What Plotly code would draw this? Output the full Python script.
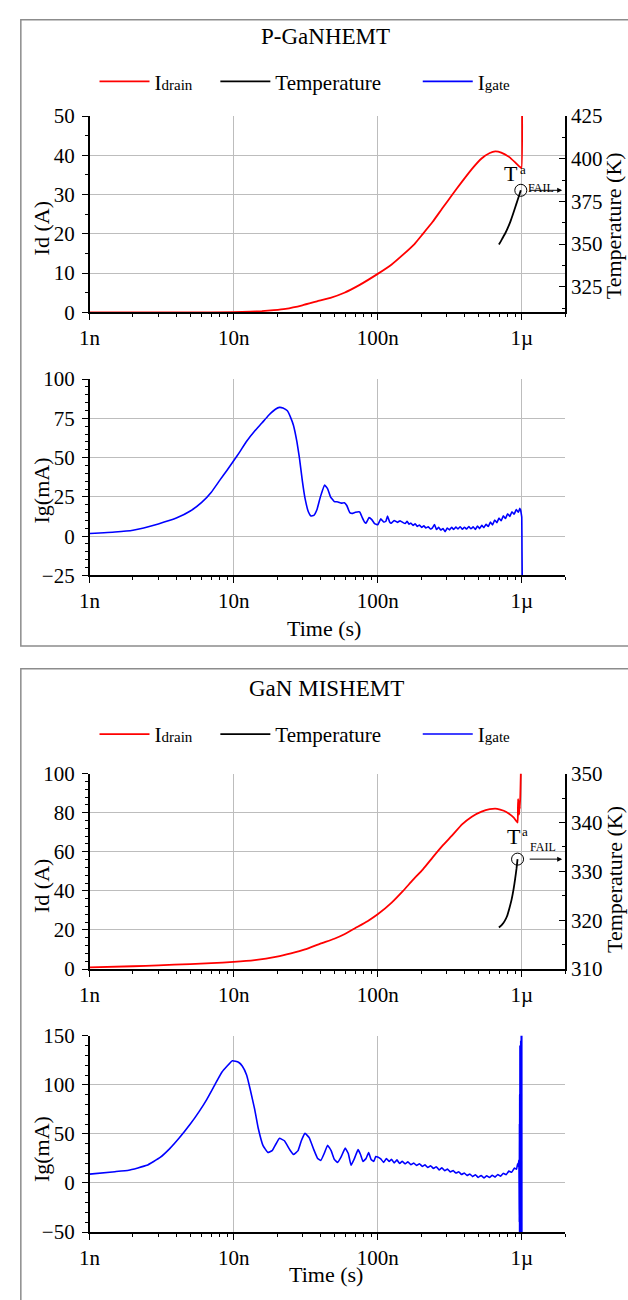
import plotly.graph_objects as go
import math

W, H = 628, 1300
F = "Liberation Serif, Times New Roman, serif"


def px(x):
    return x / W


def py(y):
    return 1 - y / H


# ---------------- data (time in ns) ----------------
# Panel 1 : P-GaNHEMT
P1_ID_T = [1, 2, 5, 10, 13, 15.7, 19, 22.9, 30, 37.9, 47, 58.7, 75, 100, 125, 150, 180, 206, 240, 281,
           330, 385, 450, 526, 600, 655, 720, 816, 900, 960, 995, 1005, 1010]
P1_ID = [0, 0, 0, 0.05, 0.15, 0.3, 0.55, 0.9, 1.8, 2.8, 3.7, 5.0, 7.0, 9.8, 12.2, 14.7, 17.4, 20.0, 23.0, 26.5,
         30.0, 33.3, 36.5, 39.2, 40.6, 41.0, 40.7, 39.6, 38.2, 37.2, 36.7, 55, 60]

P1_TEMP_T = [694, 720, 738, 770, 800, 835, 865, 900, 935, 960, 985]
P1_TEMP = [349.8, 352.0, 353.7, 356.5, 359.5, 363.3, 367.0, 371.4, 375.7, 378.6, 381.5]

P1_IG_T = [1, 1.5, 2, 3, 4, 5, 6, 7, 8, 9, 10, 11, 12.2, 14, 15.7, 17.5, 19.5, 20.8, 22, 23.6, 25, 26,
           27.5, 28.6, 30, 31.3, 33, 34.4, 36, 37.9, 40, 42.8, 45, 47, 50, 53, 56, 58.7, 61, 64, 67, 70,
           75, 78, 81, 83, 87, 91, 95, 100, 105, 110, 114, 117, 121, 124, 130, 137, 143, 150,
           155, 160, 165, 170, 176, 182, 188, 195, 202, 209, 216, 224, 232, 240, 248, 256, 265, 274,
           284, 294, 304, 315, 326, 337, 349, 361, 374, 387, 400, 414, 429, 444, 460, 476, 493, 510,
           528, 546, 565, 585, 606, 627, 649, 672, 695, 720, 745, 771, 798, 826, 855, 885, 916, 948,
           970, 985, 995, 1000, 1004, 1008]
P1_IG = [1.7, 2.6, 3.8, 7.8, 11.5, 16, 21.5, 28, 35.5, 42, 48, 53.5, 60, 67, 72, 77, 80.8, 82, 81.6, 79.8,
         75, 70.6, 60, 50, 35, 24, 15.5, 12.8, 13.2, 17, 25, 32.5, 30, 25, 22, 21.8, 21, 21.3, 19.5, 15,
         14.5, 15.2, 15.4, 12, 9, 8.2, 11.8, 10.5, 8, 7.2, 11, 9, 9.5, 12.8, 9, 8.2, 10, 8.8, 9.8, 8.6,
         8.0, 9.4, 7.6, 8.3, 6.8, 7.9, 6.2, 7.1, 5.6, 6.6, 5.2, 6.0, 4.6, 5.3, 7.4, 4.2, 5.6, 3.9,
         4.8, 2.9, 5.1, 4.0, 5.6, 4.3, 5.8, 4.6, 6.0, 4.4, 5.7, 4.5, 6.1, 4.7, 5.9, 4.3, 6.4, 4.8,
         6.9, 5.4, 7.6, 6.1, 8.9, 7.2, 10.3, 8.6, 11.5, 9.8, 12.9, 11.2, 14.3, 12.6, 15.5, 13.9, 17.0, 15.2,
         17.8, 16.0, 13.5, 12.0, -10, -30]

# Panel 2 : GaN MISHEMT
P2_ID_T = [1, 2, 3, 5, 7, 10, 14, 20, 25, 31.3, 40, 50, 58.7, 70, 85, 100, 125, 150, 175, 206, 240, 281,
           330, 385, 450, 526, 600, 675, 750, 816, 880, 935, 940, 944, 950, 958, 965, 970, 978, 985, 990]
P2_ID = [0.8, 1.4, 1.9, 2.5, 3.0, 3.6, 4.5, 6.3, 8.0, 10.0, 13.0, 15.5, 17.8, 21.0, 24.5, 28.0, 34.0, 40.0,
         45.5, 51.0, 57.0, 63.0, 68.5, 74.0, 78.0, 80.6, 81.8, 82.0, 81.0, 79.5, 77.5, 75.0, 82, 87, 79,
         79.5, 86, 82, 90, 100, 110]

P2_TEMP_T = [694, 730, 760, 790, 820, 850, 878, 900, 920, 935]
P2_TEMP = [318.5, 319.1, 319.8, 320.8, 322.4, 324.2, 326.4, 328.5, 330.6, 332.5]

P2_IG_T = [1, 1.5, 1.87, 2.5, 3.09, 3.6, 4.2, 5, 5.77, 6.5, 7.4, 8.3, 9.8, 10.8, 11.5, 12.3, 13, 14, 14.8,
           16, 17.3, 18.5, 19.7, 20.8, 22.5, 24.5, 26, 28, 29.5, 31.3, 33.5, 36, 38.3, 40.3, 42.5, 44.9,
           47.5, 50, 52.7, 55.5, 59.5, 62.5, 65.3, 69, 73, 76, 79, 83, 86.5, 90, 94, 97, 100,
           105, 110, 115, 120, 125, 130, 136, 142, 148, 155, 162, 170, 178, 186, 195, 204, 213, 223,
           233, 244, 255, 267, 279, 292, 305, 319, 334, 349, 365, 382, 399, 417, 436, 456, 477, 499,
           522, 546, 571, 597, 624, 652, 682, 713, 745, 779, 814, 851, 889, 920, 935, 945, 955,
           962, 964, 966, 968, 970, 972, 974, 976, 978, 980, 982, 984, 986, 988, 990, 992, 994, 996,
           998, 1000, 1002]
P2_IG = [9, 11.5, 13, 18, 26, 35, 46, 60, 73, 85, 100, 113, 124.5, 123, 119, 110, 96, 75, 56,
         38, 31, 33, 40, 45.5, 43, 34, 29, 33, 43, 50.5, 46, 34, 25, 23, 30, 38.5,
         33, 24, 21, 26, 35.5, 30, 18, 25, 34, 29, 22, 25, 31, 24, 22, 27, 26.5,
         24.5, 21, 25, 22, 24, 20.5, 23.5, 19.8, 22, 19.5, 21.5, 18.6, 20.3, 17.8, 19.6, 16.9, 18.4, 15.7,
         17.5, 14.8, 16.6, 13.2, 15.5, 12.4, 14.1, 11.3, 12.6, 10.1, 11.4, 8.7, 10.2, 7.6, 9.1, 6.5, 8.3, 5.7,
         7.6, 5.2, 7.4, 5.6, 7.8, 6.0, 8.6, 6.9, 9.8, 8.4, 12.1, 10.9, 15.2, 14.0, 19.5, 17.0, 23.5,
         -40, 60, -55, 90, -60, 140, -60, 120, -55, 100, -60, 145, -60, 130, -58, 160, -60, 150,
         -60, 170, -60]

X_TICKVALS = [1e-9, 1e-8, 1e-7, 1e-6]
X_TICKTEXT = ["1n", "10n", "100n", "1\u00b5"]


def sec(ts):
    return [t * 1e-9 for t in ts]


RED, BLACK, BLUE = "#ff0000", "#000000", "#0000ff"
LW = 1.8
TICKFONT = dict(family=F, size=21, color="black")

fig = go.Figure()

# panel 1
fig.add_trace(go.Scatter(x=sec(P1_ID_T), y=P1_ID, xaxis="x", yaxis="y", mode="lines",
                         line=dict(color=RED, width=LW, shape="spline", smoothing=0.4),
                         name="I<span style='font-size:15px'>drain</span>", legend="legend"))
fig.add_trace(go.Scatter(x=sec(P1_TEMP_T), y=P1_TEMP, xaxis="x", yaxis="y2", mode="lines",
                         line=dict(color=BLACK, width=LW, shape="spline", smoothing=0.4),
                         name="Temperature", legend="legend2"))
fig.add_trace(go.Scatter(x=sec(P1_TEMP_T[-1:]), y=P1_TEMP[-1:], xaxis="x", yaxis="y2", mode="markers",
                         marker=dict(symbol="circle-open", size=12, color=BLACK, line=dict(width=1)),
                         showlegend=False))
fig.add_trace(go.Scatter(x=sec(P1_IG_T), y=P1_IG, xaxis="x3", yaxis="y3", mode="lines",
                         line=dict(color=BLUE, width=1.6, shape="spline", smoothing=0.3),
                         name="I<span style='font-size:15px'>gate</span>", legend="legend3"))

# panel 2
fig.add_trace(go.Scatter(x=sec(P2_ID_T), y=P2_ID, xaxis="x4", yaxis="y4", mode="lines",
                         line=dict(color=RED, width=LW, shape="spline", smoothing=0.4),
                         name="I<span style='font-size:15px'>drain</span>", legend="legend4"))
fig.add_trace(go.Scatter(x=sec(P2_TEMP_T), y=P2_TEMP, xaxis="x4", yaxis="y5", mode="lines",
                         line=dict(color=BLACK, width=LW, shape="spline", smoothing=0.4),
                         name="Temperature", legend="legend5"))
fig.add_trace(go.Scatter(x=sec(P2_TEMP_T[-1:]), y=P2_TEMP[-1:], xaxis="x4", yaxis="y5", mode="markers",
                         marker=dict(symbol="circle-open", size=12, color=BLACK, line=dict(width=1)),
                         showlegend=False))
fig.add_trace(go.Scatter(x=sec(P2_IG_T), y=P2_IG, xaxis="x6", yaxis="y6", mode="lines",
                         line=dict(color=BLUE, width=1.6, shape="spline", smoothing=0.3),
                         name="I<span style='font-size:15px'>gate</span>", legend="legend6"))

XDOM = [px(80), px(564)]
XMINOR = [k * 10.0 ** e for e in (-9, -8, -7) for k in range(2, 10)] + [2e-6]


def xax(anchor):
    return dict(domain=XDOM, anchor=anchor, type="log", range=[-9, math.log10(2e-6)],
                tickmode="array", tickvals=X_TICKVALS, ticktext=X_TICKTEXT,
                ticks="outside", ticklen=6, tickwidth=1.2, tickcolor="black",
                showline=True, linecolor="black", linewidth=1.5,
                showgrid=True, gridcolor="#bdbdbd", gridwidth=1, zeroline=False,
                tickfont=TICKFONT,
                minor=dict(tickmode="array", tickvals=XMINOR, ticks="outside", ticklen=3,
                           tickwidth=1, tickcolor="black", showgrid=False))


def yax(anchor, dom, rng, dtick, mdt):
    return dict(domain=[py(dom[1]), py(dom[0])], anchor=anchor, range=rng, dtick=dtick, tick0=0,
                ticks="outside", ticklen=6, tickwidth=1.2, tickcolor="black", ticklabelstandoff=3,
                showline=True, linecolor="black", linewidth=1.5,
                showgrid=True, gridcolor="#bdbdbd", gridwidth=1, zeroline=False,
                tickfont=TICKFONT,
                minor=dict(dtick=mdt, ticks="outside", ticklen=3, tickwidth=1, tickcolor="black",
                           showgrid=False))


def yright(over, anchor, rng, tickvals, mvals):
    return dict(overlaying=over, anchor=anchor, side="right", range=rng,
                tickmode="array", tickvals=tickvals,
                ticks="inside", ticklen=6, tickwidth=1.2, tickcolor="black",
                showline=True, linecolor="black", linewidth=1.5, showgrid=False, zeroline=False,
                tickfont=TICKFONT,
                minor=dict(tickmode="array", tickvals=mvals, ticks="inside", ticklen=3,
                           tickwidth=1, tickcolor="black", showgrid=False))


legend_common = dict(orientation="h", xanchor="left", yanchor="middle", bgcolor="rgba(0,0,0,0)",
                     borderwidth=0, itemwidth=50, font=dict(family=F, size=21, color="black"))

layout = dict(
    width=W, height=H, margin=dict(l=0, r=0, t=0, b=0),
    paper_bgcolor="white", plot_bgcolor="white",
    font=dict(family=F, color="black"),
    xaxis=xax("y"),
    yaxis=yax("x", (106, 306), [0, 50], 10, 5),
    yaxis2=yright("y", "x", [310, 425], [325, 350, 375, 400, 425],
                  [312.5, 337.5, 362.5, 387.5, 412.5]),
    xaxis3=xax("y3"),
    yaxis3=yax("x3", (374, 574), [-25, 100], 25, 5),
    xaxis4=xax("y4"),
    yaxis4=yax("x4", (776, 975), [0, 100], 20, 4),
    yaxis5=yright("y4", "x4", [310, 350], [310, 320, 330, 340, 350], [315, 325, 335, 345]),
    xaxis6=xax("y6"),
    yaxis6=yax("x6", (1043, 1243), [-50, 150], 50, 10),
    legend=dict(legend_common, x=px(85), y=py(71)),
    legend2=dict(legend_common, x=px(208), y=py(71)),
    legend3=dict(legend_common, x=px(414), y=py(71)),
    legend4=dict(legend_common, x=px(85), y=py(736)),
    legend5=dict(legend_common, x=px(208), y=py(736)),
    legend6=dict(legend_common, x=px(414), y=py(736)),
)
fig.update_layout(**layout)


def ann(text, x, y, size, angle=0, xanchor="center", yanchor="middle"):
    fig.add_annotation(text=text, x=px(x), y=py(y), xref="paper", yref="paper", showarrow=False,
                       textangle=angle, xanchor=xanchor, yanchor=yanchor,
                       font=dict(family=F, size=size, color="black"))


ann("P-GaNHEMT", 320, 25, 23)
ann("GaN MISHEMT", 321, 689, 23)
ann("Id (A)", 31, 220, 22, -90)
ann("Ig(mA)", 31, 487, 22, -90)
ann("Id (A)", 31, 890, 22, -90)
ann("Ig(mA)", 31, 1158, 22, -90)
ann("Temperature (K)", 614, 218, 22, -90)
ann("Temperature (K)", 614, 884, 22, -90)
ann("Time (s)", 319, 628, 22)
ann("Time (s)", 321, 1286, 22)

# T^a_FAIL labels
ann("T", 509, 165, 22)
ann("a", 521, 160, 13)
ann("FAIL", 539, 179, 12)
ann("T", 512, 840, 22)
ann("a", 523, 835, 13)
ann("FAIL", 541, 851, 12)

# arrows from failure point to temperature axis
for yref, yv in (("y2", P1_TEMP[-1]), ("y5", P2_TEMP[-1])):
    fig.add_annotation(x=px(561), y=yv, xref="paper", yref=yref, ax=-34, ay=0,
                       axref="pixel", ayref="pixel", showarrow=True, arrowhead=2,
                       arrowsize=1, arrowwidth=1, arrowcolor="black", text="")

# panel frames
fig.add_shape(type="rect", xref="paper", yref="paper", x0=px(10), x1=px(660), y0=py(646), y1=py(8),
              line=dict(color="#8c8c8c", width=1.5), layer="below")
fig.add_shape(type="rect", xref="paper", yref="paper", x0=px(10), x1=px(660), y0=py(1320), y1=py(669),
              line=dict(color="#8c8c8c", width=1.5), layer="below")

fig.write_html("out.html")
